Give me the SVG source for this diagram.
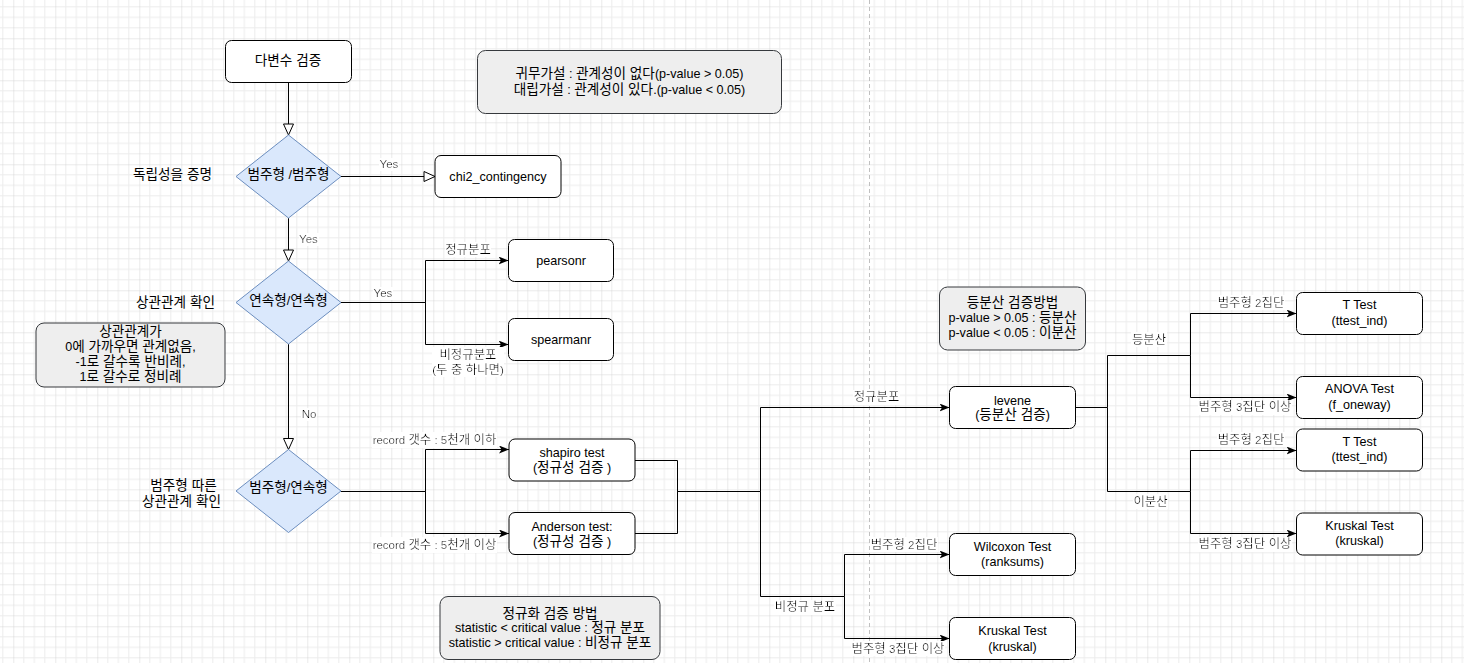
<svg xmlns="http://www.w3.org/2000/svg" width="1464" height="663" viewBox="0 0 1464 663">
<defs>
<style>
text{font-family:"Liberation Sans","Noto Sans CJK KR",sans-serif;font-size:12.6px;fill:#000;text-anchor:middle}
.k{font-size:1.08em}
.box{fill:#fff;stroke:#000;stroke-width:1}
.note{fill:#eeeeee;stroke:#36393d;stroke-width:1}
.dec{fill:#dae8fc;stroke:#6c8ebf;stroke-width:1}
.edge{fill:none;stroke:#000;stroke-width:1}
.arr{marker-end:url(#arr)}
.opn{marker-end:url(#open)}
.lbl{font-size:11.5px;filter:url(#bg)}
</style>
<filter id="bg" x="0" y="0" width="1" height="1"><feFlood flood-color="#ffffff"/><feComposite in="SourceGraphic" operator="over"/></filter>
<pattern id="grid" patternUnits="userSpaceOnUse" x="13.3" y="38.3" width="42" height="42">
<path d="M10.5,0V42M21,0V42M31.5,0V42M0,10.5H42M0,21H42M0,31.5H42" stroke="#ececec" stroke-width="1" fill="none"/>
<path d="M0,0V42M0,0H42" stroke="#d5d5d5" stroke-width="1" fill="none"/>
</pattern>
<marker id="arr" markerUnits="userSpaceOnUse" viewBox="0 0 10 8" refX="10" refY="4" markerWidth="10" markerHeight="8" orient="auto"><path d="M0,0 L10,4 L0,8 L2.5,4 Z" fill="#000"/></marker>
<marker id="open" markerUnits="userSpaceOnUse" viewBox="-1 -1 13 12" refX="11" refY="5" markerWidth="13" markerHeight="12" orient="auto"><path d="M0,0 L11,5 L0,10 Z" fill="#fff" stroke="#000" stroke-width="1"/></marker>
</defs>
<rect width="1464" height="663" fill="#fff"/>
<rect width="1464" height="663" fill="url(#grid)"/>
<line x1="869.5" y1="0" x2="869.5" y2="663" stroke="#c0c0c0" stroke-width="1" stroke-dasharray="4 3"/>

<g id="connectors">
<path class="edge opn" d="M288.5,82V135"/>
<path class="edge opn" d="M341,176.5H435"/>
<path class="edge opn" d="M288.5,218V261"/>
<path class="edge arr" d="M341,302.5H425.5V260.5H508.5"/>
<path class="edge arr" d="M341,302.5H425.5V344.5H508.5"/>
<path class="edge opn" d="M288.5,344V449.5"/>
<path class="edge arr" d="M341,491.5H425.5V449.5H509"/>
<path class="edge arr" d="M341,491.5H425.5V533.5H509"/>
<path class="edge arr" d="M635,460.5H677.5V491.5H760.5V407.5H949.5"/>
<path class="edge arr" d="M635,533.5H677.5V491.5H760.5V596.5H844.5V554.5H949.5"/>
<path class="edge arr" d="M844.5,596.5V638.5H949.5"/>
<path class="edge arr" d="M1075.5,407.5H1107.5V355.5H1190.5V313.5H1296.5"/>
<path class="edge arr" d="M1190.5,355.5V397.5H1296.5"/>
<path class="edge arr" d="M1107.5,407.5V491.5H1190.5V450.5H1296.5"/>
<path class="edge arr" d="M1190.5,491.5V533.5H1296.5"/>
</g>

<g id="edge-labels">
<text class="lbl" x="389" y="168.3">Yes</text>
<text class="lbl" x="308.5" y="243.3">Yes</text>
<text class="lbl" x="383" y="297.3">Yes</text>
<text class="lbl" x="309" y="418.3">No</text>
<text class="lbl" x="468" y="253.5"><tspan class="k">정규분포</tspan></text>
<text class="lbl" x="468" y="358.5"><tspan x="468" y="358.5" class="k">비정규분포</tspan><tspan x="468" y="373.5">(<tspan class="k">두 중 하나면</tspan>)</tspan></text>
<text class="lbl" x="434.5" y="444.3">record <tspan class="k">갯수</tspan> : 5<tspan class="k">천개 이하</tspan></text>
<text class="lbl" x="434.5" y="549.3">record <tspan class="k">갯수</tspan> : 5<tspan class="k">천개 이상</tspan></text>
<text class="lbl" x="876.5" y="401.3"><tspan class="k">정규분포</tspan></text>
<text class="lbl" x="805" y="611.3"><tspan class="k">비정규 분포</tspan></text>
<text class="lbl" x="904" y="548.8"><tspan class="k">범주형</tspan> 2<tspan class="k">집단</tspan></text>
<text class="lbl" x="898" y="652.8"><tspan class="k">범주형</tspan> 3<tspan class="k">집단 이상</tspan></text>
<text class="lbl" x="1149" y="343.8"><tspan class="k">등분산</tspan></text>
<text class="lbl" x="1150.5" y="505.8"><tspan class="k">이분산</tspan></text>
<text class="lbl" x="1251" y="306.8"><tspan class="k">범주형</tspan> 2<tspan class="k">집단</tspan></text>
<text class="lbl" x="1245" y="411.3"><tspan class="k">범주형</tspan> 3<tspan class="k">집단 이상</tspan></text>
<text class="lbl" x="1251" y="443.8"><tspan class="k">범주형</tspan> 2<tspan class="k">집단</tspan></text>
<text class="lbl" x="1245" y="548.3"><tspan class="k">범주형</tspan> 3<tspan class="k">집단 이상</tspan></text>
</g>

<g id="n-start"><rect class="box" x="225.5" y="40.5" width="126" height="42" rx="6"/><text x="288" y="65"><tspan class="k">다변수 검증</tspan></text></g>
<g id="n-hypo"><rect class="note" x="477.5" y="50.5" width="304" height="63" rx="8"/><text x="629.5" y="77.5"><tspan class="k">귀무가설</tspan> : <tspan class="k">관계성이 없다</tspan>(p-value &gt; 0.05)</text><text x="629.5" y="94"><tspan class="k">대립가설</tspan> : <tspan class="k">관계성이 있다</tspan>.(p-value &lt; 0.05)</text></g>
<g id="n-d1"><polygon class="dec" points="288.5,135 341,176.5 288.5,218 236,176.5"/><text x="288.5" y="178.5"><tspan class="k">범주형</tspan> /<tspan class="k">범주형</tspan></text></g>
<g id="n-t1"><text x="172.5" y="179"><tspan class="k">독립성을 증명</tspan></text></g>
<g id="n-chi2"><rect class="box" x="435" y="155.5" width="126" height="42" rx="6"/><text x="498" y="180.5">chi2_contingency</text></g>
<g id="n-d2"><polygon class="dec" points="288.5,261 341,302.5 288.5,344 236,302.5"/><text x="288.5" y="304.5"><tspan class="k">연속형</tspan>/<tspan class="k">연속형</tspan></text></g>
<g id="n-t2"><text x="175.5" y="306.5"><tspan class="k">상관관계 확인</tspan></text></g>
<g id="n-note1"><rect class="note" x="36" y="323" width="189" height="64" rx="8"/><text x="130.5" y="335.5"><tspan class="k">상관관계가</tspan></text><text x="130.5" y="350.5">0<tspan class="k">에 가까우면 관계없음</tspan>,</text><text x="130.5" y="365.5">-1<tspan class="k">로 갈수록 반비례</tspan>,</text><text x="130.5" y="380.5">1<tspan class="k">로 갈수로 정비례</tspan></text></g>
<g id="n-pearson"><rect class="box" x="508.5" y="239.5" width="105" height="42" rx="6"/><text x="561" y="264.5">pearsonr</text></g>
<g id="n-spearman"><rect class="box" x="508.5" y="318.5" width="105" height="42" rx="6"/><text x="561" y="343.5">spearmanr</text></g>
<g id="n-d3"><polygon class="dec" points="288.5,449.5 341,491 288.5,532.5 236,491"/><text x="288.5" y="492.3"><tspan class="k">범주형</tspan>/<tspan class="k">연속형</tspan></text></g>
<g id="n-t3"><text x="183.5" y="490"><tspan class="k">범주형 따른</tspan></text><text x="181.5" y="506"><tspan class="k">상관관계 확인</tspan></text></g>
<g id="n-shapiro"><rect class="box" x="509" y="439" width="126" height="42" rx="6"/><text x="572" y="456.5">shapiro test</text><text x="572" y="471.5">(<tspan class="k">정규성 검증</tspan> )</text></g>
<g id="n-anderson"><rect class="box" x="509" y="512.5" width="126" height="42" rx="6"/><text x="572" y="530.5">Anderson test:</text><text x="572" y="545.5">(<tspan class="k">정규성 검증</tspan> )</text></g>
<g id="n-note2"><rect class="note" x="440" y="596.5" width="220" height="63" rx="8"/><text x="550" y="617.5"><tspan class="k">정규화 검증 방법</tspan></text><text x="550" y="631.5">statistic &lt; critical value : <tspan class="k">정규 분포</tspan></text><text x="550" y="646.5">statistic &gt; critical value : <tspan class="k">비정규 분포</tspan></text></g>
<g id="n-levene"><rect class="box" x="949.5" y="386.5" width="126" height="42" rx="6"/><text x="1012.5" y="404.5">levene</text><text x="1012.5" y="419">(<tspan class="k">등분산 검증</tspan>)</text></g>
<g id="n-wilcoxon"><rect class="box" x="949.5" y="533.5" width="126" height="42" rx="6"/><text x="1012.5" y="550.5">Wilcoxon Test</text><text x="1012.5" y="566">(ranksums)</text></g>
<g id="n-kruskal1"><rect class="box" x="949.5" y="617.5" width="126" height="42" rx="6"/><text x="1012.5" y="634.5">Kruskal Test</text><text x="1012.5" y="650.5">(kruskal)</text></g>
<g id="n-note3"><rect class="note" x="939.5" y="287" width="146" height="63" rx="8"/><text x="1012.5" y="306.5"><tspan class="k">등분산 검증방법</tspan></text><text x="1012.5" y="322">p-value &gt; 0.05 : <tspan class="k">등분산</tspan></text><text x="1012.5" y="337">p-value &lt; 0.05 : <tspan class="k">이분산</tspan></text></g>
<g id="n-ttest1"><rect class="box" x="1296.5" y="292.5" width="126" height="42" rx="6"/><text x="1359.5" y="308.7">T Test</text><text x="1359.5" y="324.5">(ttest_ind)</text></g>
<g id="n-anova"><rect class="box" x="1296.5" y="376.5" width="126" height="42" rx="6"/><text x="1359.5" y="393">ANOVA Test</text><text x="1359.5" y="408.5">(f_oneway)</text></g>
<g id="n-ttest2"><rect class="box" x="1296.5" y="429" width="126" height="42" rx="6"/><text x="1359.5" y="446">T Test</text><text x="1359.5" y="461">(ttest_ind)</text></g>
<g id="n-kruskal2"><rect class="box" x="1296.5" y="513" width="126" height="42" rx="6"/><text x="1359.5" y="530">Kruskal Test</text><text x="1359.5" y="545">(kruskal)</text></g>
</svg>
